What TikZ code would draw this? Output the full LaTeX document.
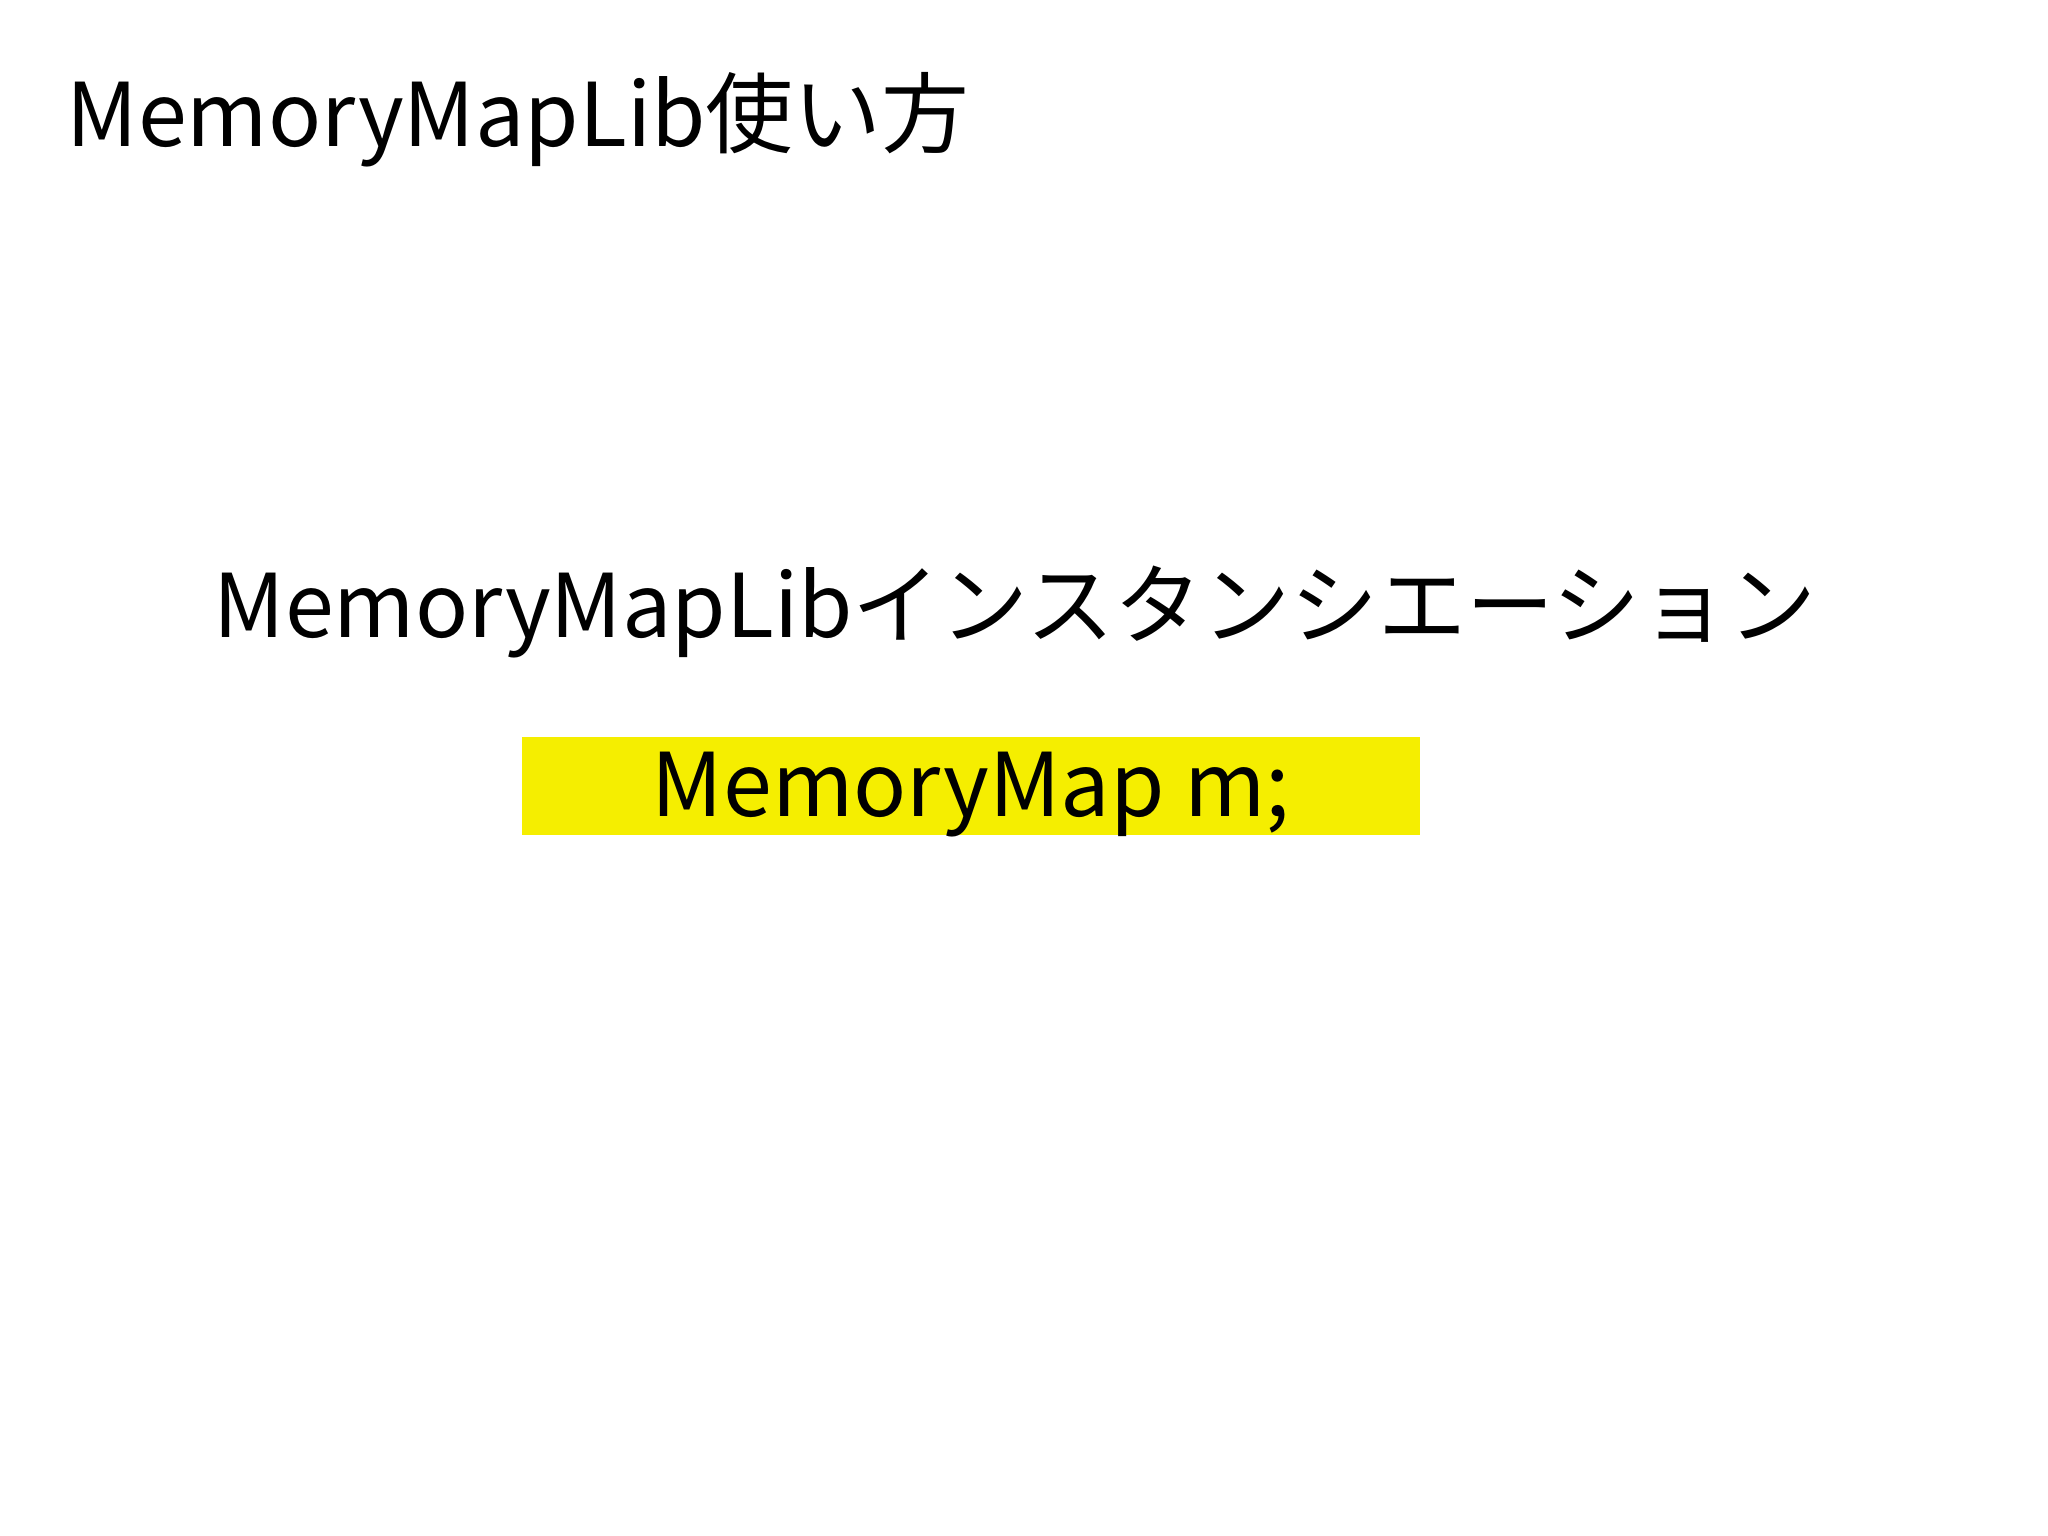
\documentclass[tikz,border=0pt]{standalone}
\usepackage{fontspec}
\setmainfont{Noto Sans CJK JP}
\definecolor{hl}{RGB}{245,238,0}
\tikzset{txt/.style={inner sep=0pt,anchor=base west,font=\fontsize{25}{30}\selectfont}}
\begin{document}
\begin{tikzpicture}[x=0.01cm,y=-0.01cm]
\useasboundingbox[fill=white] (0,0) rectangle (2048,1536);
\node[txt] (title) at (66,146) {MemoryMapLib使い方};
\node[txt] (sub) at (213,637) {MemoryMapLibインスタンシエーション};
\fill[hl] (522,737) rectangle (1420,835);
\node[txt,anchor=base] (code) at (971,816) {MemoryMap m;};
\end{tikzpicture}
\end{document}
